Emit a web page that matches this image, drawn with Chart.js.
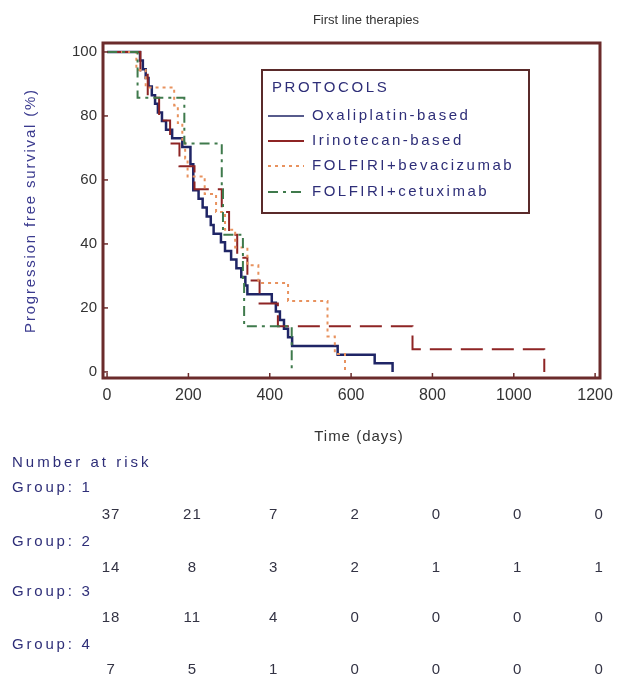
<!DOCTYPE html>
<html>
<head>
<meta charset="utf-8">
<script src="https://cdn.jsdelivr.net/npm/chart.js@4"></script>
<style>
  html, body { margin: 0; padding: 0; background: #fff; }
  #wrap { width: 625px; height: 680px; }
</style>
</head>
<body>
<div id="wrap"><canvas id="km" width="625" height="680"></canvas></div>
<script>
'use strict';

// Kaplan-Meier steps: day of event, survival (%) after it
const OXA_DAYS = [0, 81, 88, 95, 102, 110, 118, 125, 135, 145, 160, 185, 205, 212, 225, 235, 245, 255, 262, 280, 290, 305, 318, 330, 340, 345, 405, 415, 425, 435, 445, 455, 567, 658, 702];
const OXA_SURV = [100, 97.3, 94.6, 91.9, 89.2, 86.5, 83.8, 81.1, 78.4, 75.7, 73.0, 70.3, 64.9, 56.8, 54.1, 51.4, 48.6, 45.9, 43.2, 40.5, 37.8, 35.1, 32.4, 29.7, 27.0, 24.3, 21.6, 18.9, 16.2, 13.5, 10.8, 8.1, 5.4, 2.7, 0];

const IRI_DAYS = [0, 82, 100, 128, 155, 178, 215, 282, 300, 320, 345, 375, 420, 751, 1075];
const IRI_SURV = [100, 92.9, 85.7, 78.6, 71.4, 64.3, 57.1, 50, 42.9, 35.7, 28.6, 21.4, 14.3, 7.1, 0];

const BEV_DAYS = [0, 72, 95, 165, 174, 185, 192, 198, 240, 268, 290, 315, 345, 372, 445, 542, 560, 585];
const BEV_SURV = [100, 94.4, 88.9, 83.3, 77.8, 72.2, 66.7, 61.1, 55.6, 50, 44.4, 38.9, 33.3, 27.8, 22.2, 11.1, 5.6, 0];

const CET_DAYS = [0, 75, 190, 282, 285, 334, 337, 454];
const CET_SURV = [100, 85.7, 71.4, 57.1, 42.9, 28.6, 14.3, 0];

const PROTOCOLS = ['Oxaliplatin-based', 'Irinotecan-based', 'FOLFIRI+bevacizumab', 'FOLFIRI+cetuximab'];

const X_TICKS = [0, 200, 400, 600, 800, 1000, 1200];
const Y_TICKS = [0, 20, 40, 60, 80, 100];

// Number at risk, one value per x tick
const RISK_GROUPS = ['Group: 1', 'Group: 2', 'Group: 3', 'Group: 4'];
const RISK_G1 = [37, 21, 7, 2, 0, 0, 0];
const RISK_G2 = [14, 8, 3, 2, 1, 1, 1];
const RISK_G3 = [18, 11, 4, 0, 0, 0, 0];
const RISK_G4 = [7, 5, 1, 0, 0, 0, 0];

const FONT = '"Liberation Sans", Arial, sans-serif';
const FRAME = '#6b2b2b';
const NAVY = '#2e2e78';

const STYLES = [
  { color: '#1f2566', width: 2.5, dash: [] },
  { color: '#8e2424', width: 2, dash: [22, 9] },
  { color: '#e8925e', width: 2, dash: [3, 4] },
  { color: '#3f7a4c', width: 2, dash: [10, 5, 3, 5] },
];

const pts = (days, surv) => days.map((d, i) => ({ x: d, y: surv[i] }));
const SERIES = [pts(OXA_DAYS, OXA_SURV), pts(IRI_DAYS, IRI_SURV), pts(BEV_DAYS, BEV_SURV), pts(CET_DAYS, CET_SURV)];

function text(ctx, str, x, y, opts) {
  ctx.save();
  ctx.font = (opts.size || 15) + 'px ' + FONT;
  ctx.fillStyle = opts.color || '#333';
  ctx.textAlign = opts.align || 'left';
  ctx.textBaseline = 'middle';
  ctx.letterSpacing = (opts.spacing || 0) + 'px';
  if (opts.rotate) { ctx.translate(x, y); ctx.rotate(opts.rotate); ctx.fillText(str, 0, 0); }
  else ctx.fillText(str, x, y);
  ctx.restore();
}

// ── Frame, inward ticks, titles and legend ─────────────────────────────────
const framePlugin = {
  id: 'frame',
  afterDatasetsDraw(chart) {
    const { ctx, chartArea: a, scales: { x, y } } = chart;
    ctx.save();
    ctx.strokeStyle = FRAME;
    ctx.lineWidth = 1.5;
    X_TICKS.forEach(v => {
      const px = x.getPixelForValue(v);
      ctx.beginPath(); ctx.moveTo(px, a.bottom); ctx.lineTo(px, a.bottom - 5); ctx.stroke();
    });
    Y_TICKS.forEach(v => {
      const py = y.getPixelForValue(v);
      ctx.beginPath(); ctx.moveTo(a.left, py); ctx.lineTo(a.left + 5, py); ctx.stroke();
    });
    ctx.lineWidth = 3;
    ctx.strokeRect(a.left, a.top, a.right - a.left, a.bottom - a.top);

    // legend box
    const L = { left: 262, top: 70, right: 529, bottom: 213 };
    ctx.fillStyle = '#fff';
    ctx.fillRect(L.left, L.top, L.right - L.left, L.bottom - L.top);
    ctx.lineWidth = 2;
    ctx.strokeStyle = '#5a2a2a';
    ctx.strokeRect(L.left, L.top, L.right - L.left, L.bottom - L.top);
    text(ctx, 'PROTOCOLS', L.left + 10, 88, { color: NAVY, spacing: 2.6 });
    const rowsY = [116, 141, 166, 192];
    PROTOCOLS.forEach((name, i) => {
      const s = STYLES[i];
      ctx.strokeStyle = s.color;
      ctx.lineWidth = i === 0 ? 1.5 : 2;
      ctx.setLineDash(i === 1 ? [] : s.dash);
      ctx.beginPath(); ctx.moveTo(L.left + 6, rowsY[i]); ctx.lineTo(L.left + 42, rowsY[i]); ctx.stroke();
      ctx.setLineDash([]);
      text(ctx, name, L.left + 50, rowsY[i], { color: NAVY, spacing: 2.5 });
    });
    ctx.restore();

    text(ctx, 'First line therapies', 366, 20, { size: 13, align: 'center', color: '#333' });
    text(ctx, 'Time (days)', 359, 437, { size: 15, align: 'center', color: '#333', spacing: 1 });
    text(ctx, 'Progression free survival (%)', 31, (a.top + a.bottom) / 2, { size: 15, align: 'center', color: '#3b3b8f', spacing: 1.8, rotate: -Math.PI / 2 });
  },
};

// ── Number at risk table ────────────────────────────────────────────────────
const riskPlugin = {
  id: 'risk',
  afterDraw(chart) {
    const { ctx, scales: { x } } = chart;
    const rows = [RISK_G1, RISK_G2, RISK_G3, RISK_G4];
    const labelY = [488, 542, 592, 645];
    const numY = [515, 568, 618, 670];
    text(ctx, 'Number at risk', 12, 463, { color: NAVY, spacing: 3 });
    rows.forEach((vals, r) => {
      text(ctx, RISK_GROUPS[r], 12, labelY[r], { color: NAVY, spacing: 2.8 });
      vals.forEach((v, i) => text(ctx, String(v), x.getPixelForValue(X_TICKS[i]) + 4, numY[r], { align: 'center', color: '#333344', spacing: 1 }));
    });
  },
};

new Chart(document.getElementById('km').getContext('2d'), {
  type: 'line',
  data: {
    datasets: SERIES.map((data, i) => ({
      label: PROTOCOLS[i],
      data,
      stepped: 'before',
      borderColor: STYLES[i].color,
      borderWidth: STYLES[i].width,
      borderDash: STYLES[i].dash,
      pointRadius: 0,
      fill: false,
    })).reverse(),
  },
  options: {
    responsive: false,
    animation: false,
    layout: { padding: { left: 0, right: 25, top: 43, bottom: 0 } },
    plugins: {
      legend: { display: false },
      tooltip: { enabled: false },
      title: { display: false },
    },
    scales: {
      x: {
        type: 'linear',
        min: -10,
        max: 1212,
        afterBuildTicks: s => { s.ticks = X_TICKS.map(v => ({ value: v })); },
        afterFit: s => { s.height = 302; },
        grid: { display: false, drawTicks: false },
        border: { display: false },
        ticks: { color: '#333', padding: 8, maxRotation: 0, font: { family: FONT, size: 16 }, callback: v => String(v) },
      },
      y: {
        min: -1.9,
        max: 102.8,
        afterBuildTicks: s => { s.ticks = Y_TICKS.map(v => ({ value: v })); },
        afterFit: s => { s.width = 103; },
        grid: { display: false, drawTicks: false },
        border: { display: false },
        ticks: { color: '#333', padding: 6, font: { family: FONT, size: 15 }, callback: v => String(v) },
      },
    },
  },
  plugins: [framePlugin, riskPlugin],
});
</script>
</body>
</html>
